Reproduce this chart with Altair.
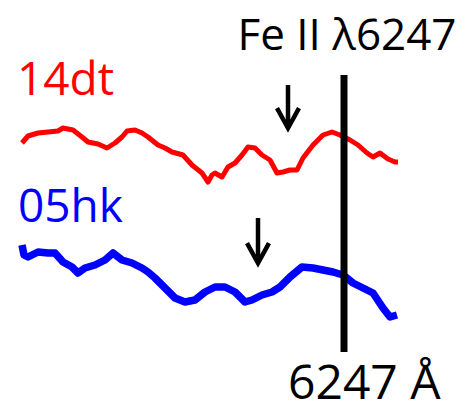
import altair as alt
import pandas as pd

# Spectra: wavelength (Å) and scaled flux (offset applied for stacking)
wave_14dt = [6086, 6089, 6094, 6099, 6104, 6106.5, 6111.5, 6116, 6119, 6124, 6128.5,
             6132.5, 6136, 6138.5, 6142.5, 6146, 6149, 6154, 6157.5, 6161, 6166.5,
             6171, 6176, 6179, 6181, 6182.5, 6186, 6189, 6192.5, 6196, 6199, 6202.5,
             6206, 6210, 6213.5, 6216.5, 6220, 6223.5, 6226.5, 6231.5, 6236.5, 6241,
             6245, 6250, 6254, 6258.5, 6261.5, 6265, 6269, 6272.5, 6274]
flux_14dt = [2.68, 2.75, 2.78, 2.79, 2.80, 2.83, 2.81, 2.74, 2.69, 2.67, 2.63,
             2.68, 2.74, 2.80, 2.81, 2.78, 2.74, 2.66, 2.63, 2.59, 2.56,
             2.46, 2.38, 2.29, 2.36, 2.38, 2.34, 2.44, 2.48, 2.56, 2.64, 2.63,
             2.56, 2.51, 2.38, 2.39, 2.41, 2.41, 2.53, 2.66, 2.76, 2.79,
             2.76, 2.71, 2.66, 2.58, 2.54, 2.58, 2.52, 2.49, 2.49]

wave_05hk = [6086, 6087, 6089, 6094, 6099, 6102.5, 6106.5, 6111, 6114, 6117.5, 6122.5,
             6127.5, 6131.5, 6136, 6141, 6146, 6149, 6152.5, 6157.5, 6162.5, 6167.5,
             6172.5, 6177.5, 6182.5, 6187.5, 6192.5, 6197.5, 6201, 6206, 6211, 6215,
             6220, 6226, 6231.5, 6236.5, 6241.5, 6246.5, 6251.5, 6256.5, 6261.5,
             6266.5, 6270, 6273.5]
flux_05hk = [1.66, 1.56, 1.54, 1.59, 1.58, 1.58, 1.49, 1.44, 1.38, 1.43, 1.46,
             1.51, 1.58, 1.51, 1.48, 1.43, 1.39, 1.33, 1.23, 1.13, 1.09,
             1.11, 1.19, 1.24, 1.24, 1.19, 1.09, 1.11, 1.16, 1.19, 1.24,
             1.34, 1.44, 1.43, 1.41, 1.39, 1.36, 1.28, 1.23, 1.18,
             1.03, 0.94, 0.96]

# Rest wavelength of the Fe II line and the vertical marker extent
line_wave = [6247]
line_top = [3.36]
line_bottom = [0.59]

# Absorption-minimum arrows: position, tail and tip
arrow_wave = [6219, 6204]
arrow_tail = [3.26, 1.93]
arrow_tip = [2.83, 1.48]

# Labels
label_text = ["14dt", "05hk"]
label_color = ["#ff0000", "#0000ff"]
label_wave = [6083.5, 6084]
label_flux = [3.16, 1.89]

X_DOMAIN = [6075, 6310.5]
Y_DOMAIN = [0, 4.11]

red = pd.DataFrame({"wave": wave_14dt, "flux": flux_14dt})
blue = pd.DataFrame({"wave": wave_05hk, "flux": flux_05hk})
marker = pd.DataFrame({"wave": line_wave, "top": line_top, "bottom": line_bottom})
arrows = pd.DataFrame({"wave": arrow_wave, "tail": arrow_tail, "tip": arrow_tip})
labels = pd.DataFrame({"text": label_text, "color": label_color,
                       "wave": label_wave, "flux": label_flux})
top_label = pd.DataFrame({"text": ["Fe II λ6247"], "wave": [6248.5], "flux": [3.61]})
bottom_label = pd.DataFrame({"text": ["6247 Å"], "wave": [6219], "flux": [0.125]})

xs = alt.Scale(domain=X_DOMAIN, nice=False, zero=False)
ys = alt.Scale(domain=Y_DOMAIN, nice=False, zero=False)
X = alt.X("wave:Q", scale=xs, axis=None)
Y = alt.Y("flux:Q", scale=ys, axis=None)

red_line = alt.Chart(red).mark_line(color="#ff0000", strokeWidth=5, strokeJoin="round").encode(x=X, y=Y)
blue_line = alt.Chart(blue).mark_line(color="#0000ff", strokeWidth=7.5, strokeJoin="round").encode(x=X, y=Y)

rest_line = alt.Chart(marker).mark_rule(color="black", strokeWidth=7).encode(
    x=X, y=alt.Y("top:Q", scale=ys, axis=None), y2="bottom:Q")

shafts = alt.Chart(arrows).mark_rule(color="black", strokeWidth=4.5).encode(
    x=X, y=alt.Y("tail:Q", scale=ys, axis=None), y2="tip:Q")
heads = alt.Chart(arrows).mark_point(
    shape="M-1,-1.8L0,0L1,-1.8", size=484, filled=False, stroke="black",
    strokeWidth=4.5, opacity=1).encode(x=X, y=alt.Y("tip:Q", scale=ys, axis=None))

name_text = alt.Chart(labels).mark_text(
    font="Open Sans", fontSize=46, align="left", baseline="alphabetic").encode(
    x=X, y=Y, text="text:N", color=alt.Color("color:N", scale=None))

top_text = alt.Chart(top_label).mark_text(
    font="Open Sans", fontSize=44, align="center", baseline="alphabetic", color="black").encode(
    x=X, y=Y, text="text:N")
bottom_text = alt.Chart(bottom_label).mark_text(
    font="Open Sans", fontSize=48, align="left", baseline="alphabetic", color="black").encode(
    x=X, y=Y, text="text:N")

chart = alt.layer(
    red_line, blue_line, rest_line, shafts, heads, name_text, top_text, bottom_text
).properties(
    width=471, height=411, padding=0, autosize=alt.AutoSizeParams(type="none"),
    background="white"
).configure_view(stroke=None)

chart.save("out.html", embed_options={"renderer": "svg", "actions": False})
